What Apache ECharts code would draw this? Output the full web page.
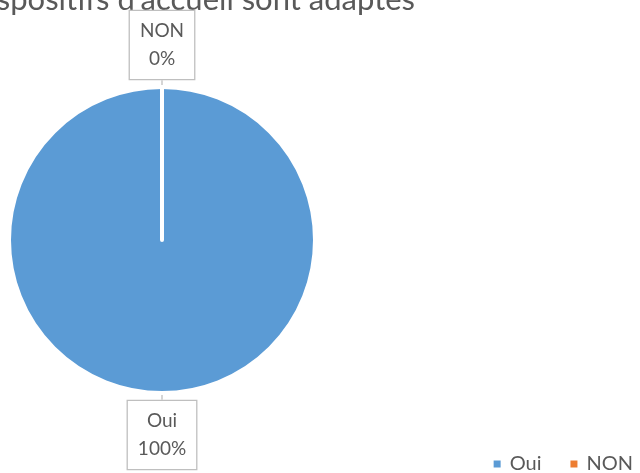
<!DOCTYPE html>
<html>
<head>
<meta charset="utf-8">
<script src="https://cdn.jsdelivr.net/npm/echarts@6/dist/echarts.min.js"></script>
<style>
html,body{margin:0;padding:0;background:#fff;}
#chart{width:640px;height:473px;}
</style>
</head>
<body>
<div id="chart"></div>
<script>
const titleText = "Les dispositifs d'accueil sont adaptés";
const categories = ["Oui", "NON"];
const values = [100, 0];
const colors = ["#5b9bd5", "#ed7d31"];

const FONT = "Lato, 'Open Sans', sans-serif";
const chart = echarts.init(document.getElementById('chart'), null, {renderer: 'canvas'});

const data = categories.map((c, i) => ({name: c, value: values[i], itemStyle: {color: colors[i]}}));

chart.setOption({
  animation: false,
  backgroundColor: '#ffffff',
  graphic: [{
    type: 'text',
    right: 225,
    top: -16,
    style: {
      text: titleText,
      fill: '#595959',
      font: '31px ' + FONT
    }
  }],
  legend: {
    data: categories,
    right: 2,
    bottom: -6,
    icon: 'rect',
    itemWidth: 9,
    itemHeight: 9,
    itemGap: 27,
    textStyle: {color: '#595959', fontSize: 20, fontFamily: FONT, padding: [0, 0, 0, 3]}
  },
  series: [{
    type: 'pie',
    center: [162, 240],
    radius: [0, 153],
    startAngle: 90,
    clockwise: true,
    minShowLabelAngle: -1,
    avoidLabelOverlap: false,
    itemStyle: {borderColor: '#ffffff', borderWidth: 4},
    label: {
      show: true,
      position: 'outside',
      formatter: '{b}\n{d}%',
      color: '#595959',
      fontSize: 19,
      fontFamily: FONT,
      lineHeight: 28,
      backgroundColor: '#ffffff',
      borderColor: '#bfbfbf',
      borderWidth: 1.3,
      padding: [6, 10, 6, 10],
      align: 'center'
    },
    labelLine: {show: true, length: 8, length2: 0, lineStyle: {color: '#bfbfbf', width: 1.3}},
    labelLayout: function (params) {
      const pts = params.labelLinePoints;
      const top = pts[1][1] < pts[0][1];
      return {
        x: pts[0][0],
        y: pts[2][1],
        align: 'center',
        verticalAlign: top ? 'bottom' : 'top'
      };
    },
    data: data
  }]
});
</script>
</body>
</html>
